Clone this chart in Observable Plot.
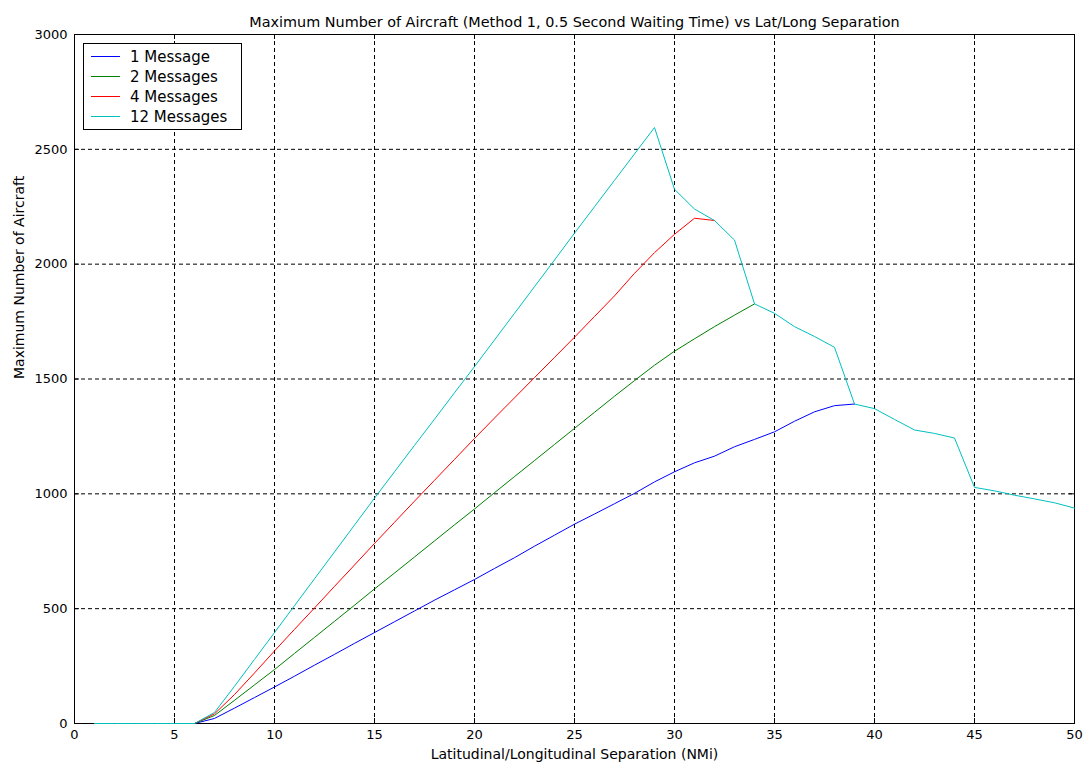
<!DOCTYPE html>
<html>
<head>
<meta charset="utf-8">
<script src="https://cdn.jsdelivr.net/npm/d3@7"></script>
<script src="https://cdn.jsdelivr.net/npm/@observablehq/plot@0.6"></script>
<style>
  body { margin: 0; background: #fff; }
  #chart { position: relative; width: 1086px; height: 772px; font-family: "DejaVu Sans", sans-serif; }
  #legend { position: absolute; left: 83px; top: 43px; }
</style>
</head>
<body>
<div id="chart"></div>
<script>
// Lat/long separation in nautical miles
const separation = [1, 2, 3, 4, 5, 6, 7, 8, 9, 10, 11, 12, 13, 14, 15, 16, 17, 18, 19, 20,
  21, 22, 23, 24, 25, 26, 27, 28, 29, 30, 31, 32, 33, 34, 35, 36, 37, 38, 39, 40,
  41, 42, 43, 44, 45, 46, 47, 48, 49, 50];

// Maximum number of aircraft per message count; beyond the point where a
// curve meets the 12-message envelope it follows that envelope, so it ends there.
const oneMessage = [0, 0, 0, 0, 0, 0, 22, 67, 113, 159, 206, 254, 301, 349, 396, 443, 490, 537, 582, 627,
  675, 722, 772, 820, 868, 912, 957, 1002, 1052, 1096, 1135, 1164, 1205, 1237, 1270, 1316, 1357, 1384, 1391];
const twoMessages = [0, 0, 0, 0, 0, 0, 35, 101, 168, 235, 305, 375, 445, 515, 586, 655, 725, 795, 865, 934,
  1005, 1075, 1145, 1215, 1285, 1355, 1425, 1493, 1560, 1621, 1675, 1728, 1778, 1827];
const fourMessages = [0, 0, 0, 0, 0, 0, 42, 126, 220, 316, 410, 503, 597, 690, 784, 876, 968, 1059, 1150, 1241,
  1330, 1418, 1506, 1594, 1682, 1772, 1862, 1960, 2050, 2130, 2200, 2190];
const twelveMessages = [0, 0, 0, 0, 0, 0, 48, 162, 279, 396, 513, 630, 747, 864, 981, 1096, 1211, 1325, 1440, 1554,
  1670, 1786, 1902, 2018, 2135, 2250, 2365, 2480, 2595, 2326, 2240, 2190, 2105, 1827, 1786, 1728, 1685, 1638, 1391, 1371,
  1324, 1278, 1263, 1243, 1028, 1013, 994, 978, 961, 938];

const seriesNames = ["1 Message", "2 Messages", "4 Messages", "12 Messages"];
const seriesValues = [oneMessage, twoMessages, fourMessages, twelveMessages];
const seriesColors = ["#0000ff", "#008000", "#ff0000", "#00bfbf"];

const xTicks = [0, 5, 10, 15, 20, 25, 30, 35, 40, 45, 50];
const yTicks = [0, 500, 1000, 1500, 2000, 2500, 3000];
const xGrid = [5, 10, 15, 20, 25, 30, 35, 40, 45];
const yGrid = [500, 1000, 1500, 2000, 2500];

const titleText = "Maximum Number of Aircraft (Method 1, 0.5 Second Waiting Time) vs Lat/Long Separation";
const xLabelText = "Latitudinal/Longitudinal Separation (NMi)";
const yLabelText = "Maximum Number of Aircraft";

const W = 1086, H = 772;
const mL = 74, mR = 12, mT = 34, mB = 49;
const innerW = W - mL - mR, innerH = H - mT - mB;

const rows = seriesNames.flatMap((name, i) =>
  seriesValues[i].map((v, j) => ({series: name, sep: separation[j], count: v})));

const gridStyle = {stroke: "#000", strokeWidth: 1, strokeDasharray: "4,3"};

const chart = Plot.plot({
  width: W,
  height: H,
  marginLeft: mL,
  marginRight: mR,
  marginTop: mT,
  marginBottom: mB,
  style: {fontFamily: "DejaVu Sans, sans-serif", fontSize: "13px", background: "#fff", color: "#000", overflow: "visible"},
  x: {domain: [0, 50]},
  y: {domain: [0, 3000]},
  color: {domain: seriesNames, range: seriesColors},
  marks: [
    Plot.ruleX(xGrid, {x: d => d, ...gridStyle}),
    Plot.ruleY(yGrid, {y: d => d, ...gridStyle}),
    // inward tick marks on all four sides
    Plot.tickX(xTicks, {x: d => d, insetTop: innerH - 5, stroke: "#000"}),
    Plot.tickX(xTicks, {x: d => d, insetBottom: innerH - 5, stroke: "#000"}),
    Plot.tickY(yTicks, {y: d => d, insetRight: innerW - 5, stroke: "#000"}),
    Plot.tickY(yTicks, {y: d => d, insetLeft: innerW - 5, stroke: "#000"}),
    Plot.frame({stroke: "#000"}),
    ...seriesNames.map(name =>
      Plot.line(rows.filter(r => r.series === name), {x: "sep", y: "count", stroke: "series", strokeWidth: 1})),
    Plot.axisX(xTicks, {tickSize: 0, tickPadding: 6, tickFormat: "d", label: null}),
    Plot.axisY(yTicks, {tickSize: 0, tickPadding: 7, tickFormat: "d", label: null}),
    Plot.text([xLabelText], {text: d => d, frameAnchor: "bottom", dy: 35, fontSize: 14}),
    Plot.text([yLabelText], {text: d => d, frameAnchor: "left", dx: -55, rotate: -90, fontSize: 14}),
    Plot.text([titleText], {text: d => d, frameAnchor: "top", dy: -18, fontSize: 14.4})
  ]
});

const root = document.getElementById("chart");
root.appendChild(chart);

// legend box in the upper-left corner of the axes
const lw = 159, lh = 87;
const legend = d3.select(root).append("svg")
  .attr("id", "legend")
  .attr("width", lw)
  .attr("height", lh);
legend.append("rect")
  .attr("x", 0.5).attr("y", 0.5)
  .attr("width", lw - 1).attr("height", lh - 1)
  .attr("fill", "#fff").attr("stroke", "#000");
const entry = legend.selectAll("g.entry")
  .data(seriesNames)
  .join("g")
  .attr("class", "entry")
  .attr("transform", (d, i) => `translate(0,${13.5 + i * 20})`);
entry.append("line")
  .attr("x1", 8).attr("x2", 37)
  .attr("stroke", (d, i) => seriesColors[i])
  .attr("stroke-width", 1);
entry.append("text")
  .attr("x", 47)
  .attr("dy", "0.35em")
  .attr("font-family", "DejaVu Sans, sans-serif")
  .attr("font-size", 15)
  .text(d => d);
</script>
</body>
</html>
